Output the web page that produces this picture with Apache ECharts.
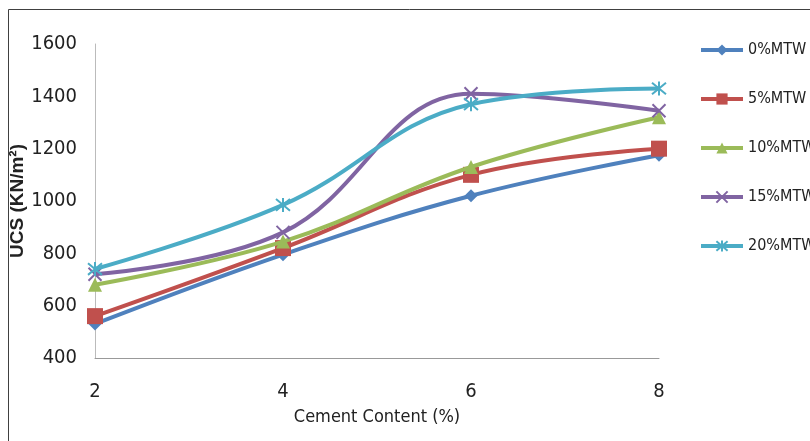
<!DOCTYPE html>
<html><head><meta charset="utf-8">
<script src="https://cdn.jsdelivr.net/npm/echarts@6/dist/echarts.min.js"></script>
<style>html,body{margin:0;padding:0;background:#fff}#c{width:810px;height:441px}</style>
</head><body><div id="c"></div>
<script>
const cementContent = [2, 4, 6, 8];
const mtw0  = [530, 795, 1020, 1175];
const mtw5  = [560, 820, 1100, 1200];
const mtw10 = [680, 845, 1130, 1320];
const mtw15 = [720, 880, 1410, 1345];
const mtw20 = [740, 985, 1370, 1430];
const seriesNames = ['0%MTW', '5%MTW', '10%MTW', '15%MTW', '20%MTW'];
const yTicks = [400, 600, 800, 1000, 1200, 1400, 1600];

const colors = ['#4F81BD', '#C0504D', '#9BBB59', '#8064A2', '#4BACC6'];
const xPath = 'path://M0,0L10,10M10,0L0,10';
const starPath = 'path://M0,0L10,10M10,0L0,10M5,-1L5,11';
const symbols = ['diamond', 'rect', 'triangle', xPath, starPath];
const sizes = [13, 16, 14, 13, 14];
const allData = [mtw0, mtw5, mtw10, mtw15, mtw20];
const font = "'Liberation Sans Narrow','DejaVu Sans Condensed',Arial,sans-serif";

const chart = echarts.init(document.getElementById('c'));
chart.setOption({
  animation: false,
  backgroundColor: '#fff',
  graphic: [{type: 'rect', shape: {x: 8.5, y: 9.5, width: 900, height: 500}, style: {fill: 'none', stroke: '#404040', lineWidth: 1}}],
  grid: {left: 95, right: 151, top: 44, bottom: 83, containLabel: false, outerBoundsMode: 'none'},
  legend: {
    orient: 'vertical', left: 694, top: 37, itemWidth: 42, itemHeight: 14, itemGap: 33,
    lineStyle: {width: 4},
    textStyle: {fontFamily: font, fontSize: 16, color: '#222'},
    data: seriesNames
  },
  xAxis: {
    type: 'value', min: 2, max: 8, interval: 2,
    name: 'Cement Content (%)', nameLocation: 'middle', nameGap: 50,
    nameTextStyle: {fontFamily: font, fontSize: 18, color: '#222'},
    axisLine: {lineStyle: {color: '#999', width: 1}},
    axisTick: {show: false}, splitLine: {show: false},
    axisLabel: {fontFamily: font, fontSize: 20, color: '#222', margin: 24}
  },
  yAxis: {
    type: 'value', min: yTicks[0], max: yTicks[yTicks.length - 1], interval: 200,
    name: 'UCS (KN/m²)', nameLocation: 'middle', nameGap: 68, nameRotate: 90, nameMoveOverlap: false,
    nameTextStyle: {fontFamily: 'Arial, Liberation Sans, sans-serif', fontSize: 19, fontWeight: 'bold', color: '#222'},
    axisLine: {show: true, lineStyle: {color: '#bbb', width: 1}},
    axisTick: {show: false}, splitLine: {show: false},
    axisLabel: {fontFamily: font, fontSize: 20, color: '#222', margin: 18, formatter: v => String(v)}
  },
  series: seriesNames.map((n, i) => ({
    name: n, type: 'line', smooth: 0.4,
    data: cementContent.map((x, j) => [x, allData[i][j]]),
    symbol: symbols[i], symbolSize: sizes[i],
    lineStyle: {color: colors[i], width: 4},
    itemStyle: {color: colors[i], borderColor: colors[i], borderWidth: (i >= 3 ? 2 : 0)},
    z: 2 + i
  }))
});
</script></body></html>
